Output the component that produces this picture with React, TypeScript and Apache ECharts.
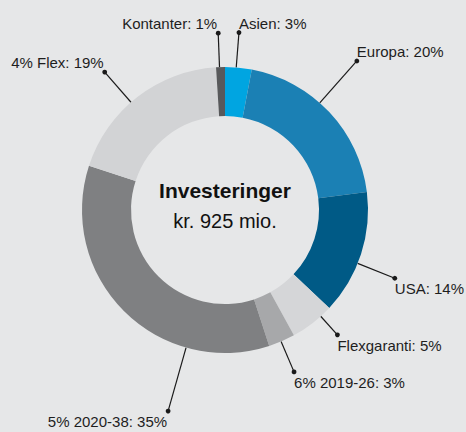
import React, { useEffect, useRef } from "react";
import * as echarts from "echarts";

// ---- data ----
const categories = ["Asien", "Europa", "USA", "Flexgaranti", "6% 2019-26", "5% 2020-38", "4% Flex", "Kontanter"];
const shares = [3, 20, 14, 5, 3, 35, 19, 1];
const centerTitle = "Investeringer";
const centerSubtitle = "kr. 925 mio.";

// ---- styles / layout ----
const colors = ["#00a5e1", "#1b80b4", "#005a86", "#d5d6d8", "#a7a8aa", "#7f8082", "#d2d3d5", "#58595b"];
const labelAngle = [4.5, 41.5, 111.9, 138, 156.9, 195.8, -41.1, -2.2];
const labelRadius = [178, 199, 183, 168, 176, 209, 183, 177];
const labelCorner = ["tr", "tr", "br", "br", "br", "bl", "tl", "tl"];

const W = 466;
const H = 432;
const CX = 225;
const CY = 210;
const R_OUT = 143;
const R_IN = 94;
const LABEL_FONT = "'Liberation Sans', Arial, sans-serif";
const LABEL_SIZE = 15;

function polar(angleDeg: number, r: number): [number, number] {
  const a = (angleDeg * Math.PI) / 180;
  return [CX + r * Math.sin(a), CY - r * Math.cos(a)];
}

export default function App() {
  const ref = useRef<HTMLDivElement>(null);
  useEffect(() => {
    if (!ref.current) return;
    const chart = echarts.init(ref.current, null, { renderer: "svg" });
    const dots = categories.map((_, i) => {
      const p = polar(labelAngle[i], labelRadius[i]);
      return {
        type: "circle",
        shape: { cx: p[0], cy: p[1], r: 2.4 },
        style: { fill: "#1a1a1a" },
        z: 10,
      };
    });
    chart.setOption({
      animation: false,
      backgroundColor: "#e6e7e8",
      graphic: [
        ...dots,
        {
          type: "text",
          x: CX,
          y: 190,
          style: {
            text: centerTitle,
            fontSize: 21,
            fontWeight: "bold",
            fontFamily: "'Liberation Sans', Arial, sans-serif",
            fill: "#111111",
            align: "center",
            verticalAlign: "middle",
          },
        },
        {
          type: "text",
          x: CX,
          y: 221,
          style: {
            text: centerSubtitle,
            fontSize: 20,
            fontFamily: "'Liberation Sans', Arial, sans-serif",
            fill: "#111111",
            align: "center",
            verticalAlign: "middle",
          },
        },
      ],
      series: [
        {
          type: "pie",
          center: [CX, CY],
          radius: [R_IN, R_OUT],
          startAngle: 90,
          clockwise: true,
          avoidLabelOverlap: false,
          silent: true,
          itemStyle: { borderWidth: 0 },
          label: {
            show: true,
            position: "outside",
            formatter: "{b}: {c}%",
            color: "#1e1e1e",
            fontSize: LABEL_SIZE,
            lineHeight: LABEL_SIZE,
            fontFamily: LABEL_FONT,
          },
          labelLine: {
            show: true,
            length: 20,
            length2: 0,
            lineStyle: { color: "#1a1a1a", width: 1.2 },
          },
          labelLayout: (p: any) => {
            const i = p.dataIndex;
            const start = polar(labelAngle[i], R_OUT);
            const end = polar(labelAngle[i], labelRadius[i]);
            const c = labelCorner[i];
            const right = c[1] === "r";
            const up = c[0] === "t";
            return {
              x: end[0] + (right ? 0 : -1),
              y: end[1] + (up ? -2 : 3),
              align: right ? "left" : "right",
              verticalAlign: up ? "bottom" : "top",
              labelLinePoints: [start, end],
            };
          },
          data: categories.map((name, i) => ({
            name,
            value: shares[i],
            itemStyle: { color: colors[i] },
          })),
        },
      ],
    });
    return () => chart.dispose();
  }, []);
  return <div ref={ref} style={{ position: "fixed", left: 0, top: 0, width: W, height: H }} />;
}
